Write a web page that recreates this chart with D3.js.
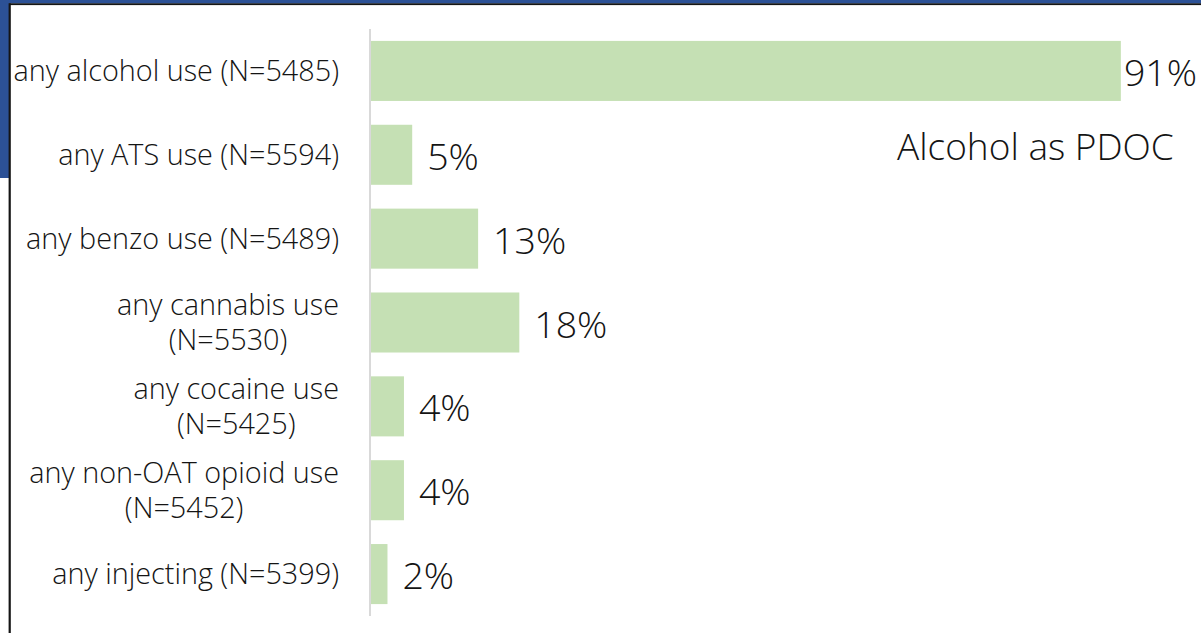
<!DOCTYPE html>
<html>
<head>
<meta charset="utf-8">
<script src="https://cdn.jsdelivr.net/npm/d3@7"></script>
<style>
  html, body { margin: 0; padding: 0; background: #ffffff; }
  svg { display: block; }
  text { font-family: "Open Sans", "Noto Sans", sans-serif; font-weight: 350; }
</style>
</head>
<body>
<svg id="chart" width="1201" height="633"></svg>
<script>
// Category labels ("\n" marks a wrapped line)
const categories = [
  "any alcohol use (N=5485)",
  "any ATS use (N=5594)",
  "any benzo use (N=5489)",
  "any cannabis use\n(N=5530)",
  "any cocaine use\n(N=5425)",
  "any non-OAT opioid use\n(N=5452)",
  "any injecting (N=5399)"
];
// Share of people reporting each use
const values = [0.91, 0.05, 0.13, 0.18, 0.04, 0.04, 0.02];
const valueLabels = ["91%", "5%", "13%", "18%", "4%", "4%", "2%"];
const noteText = "Alcohol as PDOC";

const W = 1201, H = 633;
const svg = d3.select("#chart");

// Slide frame: blue strip with a dark edge around the white panel
svg.append("rect").attr("x", 0).attr("y", 0).attr("width", W).attr("height", 3.5).attr("fill", "#2c5196");
svg.append("rect").attr("x", 0).attr("y", 0).attr("width", 9).attr("height", 178).attr("fill", "#2c5196");
svg.append("rect").attr("x", 9).attr("y", 3.3).attr("width", W - 9).attr("height", 1.8).attr("fill", "#151515");
svg.append("rect").attr("x", 8.6).attr("y", 3.3).attr("width", 2.2).attr("height", H - 3.3).attr("fill", "#151515");

const x0 = 371;
const x = d3.scaleLinear().domain([0, 1]).range([x0, x0 + 824]);
const y = d3.scaleBand().domain(categories).range([29, 616])
  .paddingInner(0.284).paddingOuter(0.142);

// Bars
svg.append("g").selectAll("rect")
  .data(values)
  .join("rect")
  .attr("x", x(0))
  .attr("y", (d, i) => y(categories[i]))
  .attr("width", d => x(d) - x(0))
  .attr("height", y.bandwidth())
  .attr("fill", "#c5e0b4");

// Category axis line
svg.append("line")
  .attr("x1", x0 - 1).attr("x2", x0 - 1)
  .attr("y1", 29).attr("y2", 616)
  .attr("stroke", "#d9d9d9").attr("stroke-width", 2);

// Category labels, wrapped lines centred within a right-aligned block
const labelRight = 339;
const lineGap = 35;
const catG = svg.append("g");
categories.forEach(cat => {
  const lines = cat.split("\n");
  const cy = y(cat) + y.bandwidth() / 2;
  const t = catG.append("text")
    .attr("font-size", 28.8)
    .attr("fill", "#141414");
  const spans = lines.map((ln, i) => t.append("tspan")
    .attr("y", cy + 10 + (i - (lines.length - 1) / 2) * lineGap)
    .text(ln));
  const widths = spans.map(s => s.node().getComputedTextLength());
  const blockW = d3.max(widths);
  const mid = labelRight - blockW / 2;
  spans.forEach(s => s.attr("x", mid).attr("text-anchor", "middle"));
});

// Value labels just beyond each bar, kept inside the panel
const valG = svg.append("g");
values.forEach((v, i) => {
  const t = valG.append("text")
    .attr("font-size", 37.5)
    .attr("fill", "#141414")
    .attr("y", y(categories[i]) + y.bandwidth() / 2 + 15)
    .text(valueLabels[i]);
  const w = t.node().getComputedTextLength();
  t.attr("x", Math.min(x(v) + 15, W - 4 - w));
});

// Annotation
svg.append("text")
  .attr("x", 897).attr("y", 160)
  .attr("font-size", 37)
  .attr("fill", "#141414")
  .text(noteText);
</script>
</body>
</html>
